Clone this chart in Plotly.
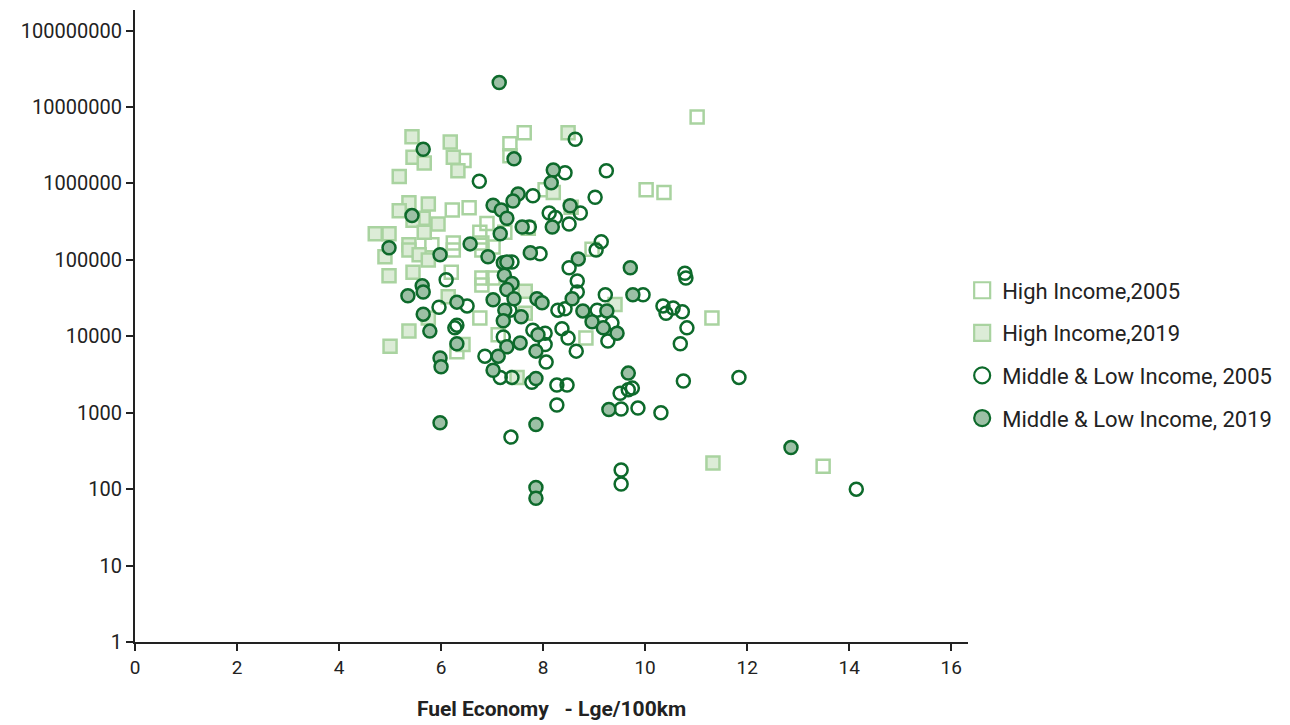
import plotly.graph_objects as go

# ---- data (fuel economy Lge/100km, value on log axis) ----
hi05_x = [11.02, 7.63, 7.35, 7.35, 6.45, 10.02, 10.37, 6.22, 6.55, 6.90, 6.76, 6.24, 6.24, 6.80, 6.80,
          7.02, 6.20, 6.80, 6.80, 7.02, 6.76, 7.12, 6.31, 11.31, 13.49, 8.96, 8.04, 5.82, 7.25, 7.71, 8.84]
hi05_y = [7.4e6, 4.6e6, 3.3e6, 2.3e6, 2.0e6, 8.3e5, 7.6e5, 4.5e5, 4.8e5, 3.0e5, 2.3e5, 1.66e5, 1.35e5, 1.66e5, 1.35e5,
          1.48e5, 6.9e4, 5.8e4, 4.7e4, 5.8e4, 1.74e4, 1.05e4, 6.3e3, 1.74e4, 200, 1.38e5, 8.3e5, 1.58e5, 2.3e5, 2.6e5, 9.5e3]

hi19_x = [8.49, 5.43, 6.18, 5.45, 5.67, 6.24, 6.33, 5.18, 5.37, 5.75, 5.18, 5.65, 5.94, 5.45, 4.71, 4.98, 5.67,
          5.37, 5.37, 4.90, 5.57, 5.75, 4.98, 5.45, 7.65, 6.14, 5.75, 5.37, 5.00, 6.43, 7.49, 11.33, 9.41, 8.20,
          8.55, 7.65]
hi19_y = [4.6e6, 4.1e6, 3.5e6, 2.2e6, 1.86e6, 2.2e6, 1.47e6, 1.23e6, 5.6e5, 5.4e5, 4.4e5, 3.5e5, 2.95e5, 3.3e5,
          2.2e5, 2.2e5, 2.3e5, 1.58e5, 1.35e5, 1.1e5, 1.17e5, 1.0e5, 6.2e4, 6.9e4, 3.9e4, 3.3e4, 1.74e4, 1.17e4,
          7.4e3, 7.8e3, 2.9e3, 220, 2.6e4, 7.6e5, 4.9e5, 2.0e4]

ml05_x = [8.63, 8.43, 9.24, 6.75, 7.80, 9.02, 8.73, 8.12, 8.24, 8.51, 9.14, 9.04, 7.94, 7.39, 8.51, 10.78,
          10.80, 8.67, 8.67, 9.22, 9.96, 6.10, 5.96, 6.51, 6.31, 6.27, 7.35, 7.22, 7.80, 8.04, 8.04, 6.86, 8.06,
          7.16, 7.39, 7.78, 8.27, 8.47, 8.27, 7.37, 8.43, 9.06, 9.35, 8.37, 8.49, 8.65, 9.27, 10.35, 10.41,
          10.55, 10.73, 10.82, 10.69, 10.75, 11.84, 9.51, 9.67, 9.75, 9.53, 9.86, 10.31, 9.53, 9.53, 14.14,
          8.29, 7.73]
ml05_y = [3.8e6, 1.38e6, 1.47e6, 1.07e6, 6.9e5, 6.6e5, 4.1e5, 4.1e5, 3.6e5, 2.95e5, 1.73e5, 1.35e5, 1.2e5,
          9.4e4, 7.9e4, 6.7e4, 5.8e4, 5.3e4, 3.8e4, 3.5e4, 3.5e4, 5.5e4, 2.4e4, 2.5e4, 1.4e4, 1.29e4, 2.2e4,
          9.8e3, 1.2e4, 1.1e4, 7.8e3, 5.5e3, 4.6e3, 2.9e3, 2.9e3, 2.5e3, 2.3e3, 2.3e3, 1.26e3, 480, 2.3e4,
          2.2e4, 1.5e4, 1.26e4, 9.5e3, 6.4e3, 8.7e3, 2.5e4, 2.0e4, 2.35e4, 2.1e4, 1.29e4, 8.0e3, 2.6e3, 2.9e3,
          1.8e3, 2.0e3, 2.1e3, 1.12e3, 1.15e3, 1.0e3, 178, 117, 100, 2.2e4, 2.7e5]

ml19_x = [7.14, 5.65, 7.43, 8.20, 8.16, 7.51, 8.53, 8.18, 7.02, 7.18, 7.41, 7.29, 5.43, 7.59, 7.16, 4.98,
          5.98, 6.57, 6.92, 7.75, 7.22, 7.29, 7.24, 7.39, 7.29, 7.43, 7.02, 7.88, 7.98, 5.63, 5.65, 5.35, 6.31,
          5.65, 5.78, 7.25, 7.57, 7.22, 7.90, 7.55, 7.29, 7.86, 6.31, 5.98, 6.00, 7.12, 7.02, 7.86, 5.98, 7.86,
          7.86, 7.86, 8.69, 9.71, 9.76, 8.57, 8.78, 9.25, 8.96, 9.18, 9.45, 9.67, 9.29, 12.86]
ml19_y = [2.1e7, 2.8e6, 2.1e6, 1.5e6, 1.02e6, 7.3e5, 5.1e5, 2.7e5, 5.2e5, 4.5e5, 5.9e5, 3.5e5, 3.8e5, 2.7e5,
          2.2e5, 1.44e5, 1.17e5, 1.62e5, 1.1e5, 1.24e5, 9.2e4, 9.4e4, 6.3e4, 4.9e4, 4.1e4, 3.1e4, 3.0e4, 3.1e4,
          2.75e4, 4.6e4, 3.8e4, 3.4e4, 2.8e4, 1.95e4, 1.17e4, 2.2e4, 1.8e4, 1.6e4, 1.05e4, 8.2e3, 7.3e3, 6.4e3,
          8.0e3, 5.2e3, 4.0e3, 5.5e3, 3.6e3, 2.8e3, 740, 700, 105, 76, 1.03e5, 7.9e4, 3.5e4, 3.1e4, 2.15e4,
          2.15e4, 1.55e4, 1.29e4, 1.1e4, 3.3e3, 1.1e3, 350]

series_names = ["High Income,2005", "High Income,2019", "Middle & Low Income, 2005", "Middle & Low Income, 2019"]
y_tick_vals = [1, 10, 100, 1000, 10000, 100000, 1000000, 10000000, 100000000]
y_tick_text = ["1", "10", "100", "1000", "10000", "100000", "1000000", "10000000", "100000000"]
x_tick_vals = [0, 2, 4, 6, 8, 10, 12, 14, 16]

LIGHT = "#a9d3a0"
LIGHT_FILL = "#dcecd7"
DARK = "#0d6a2b"
DARK_FILL = "#9cc0a5"
CLEAR = "rgba(255,255,255,0)"
TXT = "#222222"

series = [
    (hi05_x, hi05_y, "square", CLEAR, LIGHT),
    (hi19_x, hi19_y, "square", LIGHT_FILL, LIGHT),
    (ml05_x, ml05_y, "circle", CLEAR, DARK),
    (ml19_x, ml19_y, "circle", DARK_FILL, DARK),
]

fig = go.Figure()
for i, (xs, ys, sym, fill, edge) in enumerate(series):
    # data marks
    fig.add_trace(go.Scatter(x=xs, y=ys, mode="markers", name=series_names[i], legendgroup=str(i),
                             showlegend=False,
                             marker=dict(symbol=sym, size=13, color=fill, line=dict(color=edge, width=2.5))))
    # legend entry with larger symbol
    fig.add_trace(go.Scatter(x=[None], y=[None], mode="markers", name=series_names[i], legendgroup=str(i),
                             showlegend=True,
                             marker=dict(symbol=sym, size=16, color=fill, line=dict(color=edge, width=2.2))))

# page body has an 8px margin, so offsets account for it
fig.update_layout(
    width=1290, height=725,
    margin=dict(l=127, r=330, t=2, b=91),
    paper_bgcolor="white", plot_bgcolor="white",
    font=dict(family="Roboto, sans-serif", color=TXT, size=20),
    showlegend=True,
    legend=dict(x=0.993, xanchor="left", y=0.455, yanchor="middle",
                font=dict(size=22, color=TXT), tracegroupgap=11,
                itemsizing="trace", bgcolor="rgba(0,0,0,0)"),
    xaxis=dict(range=[0, 16.33], tickvals=x_tick_vals, ticks="outside", ticklen=7, tickwidth=2,
               tickcolor=TXT, showline=True, linecolor=TXT, linewidth=2,
               showgrid=False, zeroline=False, tickfont=dict(size=19, color=TXT),
               title=dict(text="<b>Fuel Economy   - Lge/100km</b>", font=dict(size=21, color=TXT),
                          standoff=24)),
    yaxis=dict(type="log", range=[0, 8.27], tickvals=y_tick_vals, ticktext=y_tick_text,
               ticks="outside", ticklen=7, tickwidth=2, tickcolor=TXT,
               showline=True, linecolor=TXT, linewidth=2, showgrid=False, zeroline=False,
               tickfont=dict(size=20, color=TXT)),
)

fig.write_html("out.html")
